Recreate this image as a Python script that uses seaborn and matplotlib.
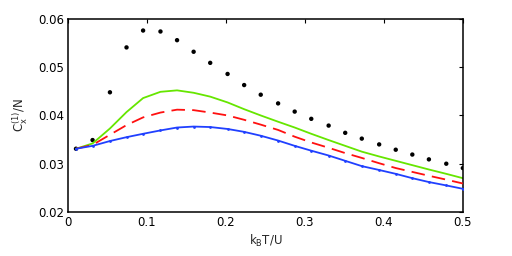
import numpy as np
import pandas as pd
import matplotlib
matplotlib.use('Agg')
import matplotlib.pyplot as plt
import seaborn as sns

# temperature grid k_B T / U
kT = [0.010, 0.031, 0.053, 0.074, 0.095, 0.117, 0.138, 0.159, 0.180, 0.202,
      0.223, 0.244, 0.266, 0.287, 0.308, 0.330, 0.351, 0.372, 0.394, 0.415,
      0.436, 0.457, 0.479, 0.500]

c_dots = [0.0331, 0.0349, 0.0448, 0.0541, 0.0576, 0.0574, 0.0556, 0.0532,
          0.0509, 0.0486, 0.0463, 0.0443, 0.0425, 0.0408, 0.0393, 0.0379,
          0.0364, 0.0352, 0.0340, 0.0329, 0.0319, 0.0309, 0.0300, 0.0291]

c_green = [0.0331, 0.0342, 0.0373, 0.0407, 0.0436, 0.0449, 0.0452, 0.0447,
           0.0439, 0.0427, 0.0413, 0.0400, 0.0387, 0.0375, 0.0362, 0.0349,
           0.0337, 0.0325, 0.0315, 0.0306, 0.0297, 0.0288, 0.0279, 0.0270]

c_red = [0.0331, 0.0339, 0.0360, 0.0380, 0.0396, 0.0406, 0.0412, 0.0411,
         0.0406, 0.0400, 0.0391, 0.0381, 0.0370, 0.0356, 0.0344, 0.0333,
         0.0322, 0.0312, 0.0301, 0.0291, 0.0283, 0.0275, 0.0267, 0.0259]

c_blue = [0.0331, 0.0337, 0.0347, 0.0355, 0.0362, 0.0369, 0.0375, 0.0377,
          0.0376, 0.0372, 0.0366, 0.0358, 0.0348, 0.0337, 0.0327, 0.0317,
          0.0306, 0.0295, 0.0287, 0.0279, 0.0270, 0.0262, 0.0255, 0.0248]

data = pd.DataFrame({'kT': kT, 'dots': c_dots, 'green': c_green,
                     'red': c_red, 'blue': c_blue})

sns.set_style('white')
plt.rcParams['font.family'] = ['DejaVu Sans']

fig = plt.figure(figsize=(5.12, 2.56), dpi=100)
ax = fig.add_axes([0.133, 0.172, 0.771, 0.754])

sns.scatterplot(data=data, x='kT', y='dots', ax=ax, color='black', s=10,
                edgecolor='none', zorder=1)
sns.lineplot(data=data, x='kT', y='green', ax=ax, color='#66e600', linewidth=1.3, zorder=2)
sns.lineplot(data=data, x='kT', y='red', ax=ax, color='#ff1010', linewidth=1.3,
             zorder=3, dashes=False)
ax.lines[-1].set_dashes([7.5, 4])
sns.lineplot(data=data, x='kT', y='blue', ax=ax, color='#2040ff', linewidth=1.3,
             marker='.', markersize=4, markeredgewidth=0, zorder=4)

ax.set_xlim(0, 0.5)
ax.set_ylim(0.02, 0.06)
ax.set_xticks([0, 0.1, 0.2, 0.3, 0.4, 0.5])
ax.set_xticklabels(['0', '0.1', '0.2', '0.3', '0.4', '0.5'])
ax.set_yticks([0.02, 0.03, 0.04, 0.05, 0.06])
ax.set_yticklabels(['0.02', '0.03', '0.04', '0.05', '0.06'])
ax.tick_params(direction='in', length=3, width=0.8, top=True, right=True,
               labelsize=8.5, colors='black', pad=3)
for sp in ax.spines.values():
    sp.set_color('black')
    sp.set_linewidth(1.1)

ax.set_xlabel(r'k$_\mathregular{B}$T/U', fontsize=8.5, labelpad=3)
ax.set_ylabel(r'C$_\mathregular{x}^\mathregular{(1)}$/N', fontsize=8.5, labelpad=6)

fig.savefig('out.png', dpi=100)
